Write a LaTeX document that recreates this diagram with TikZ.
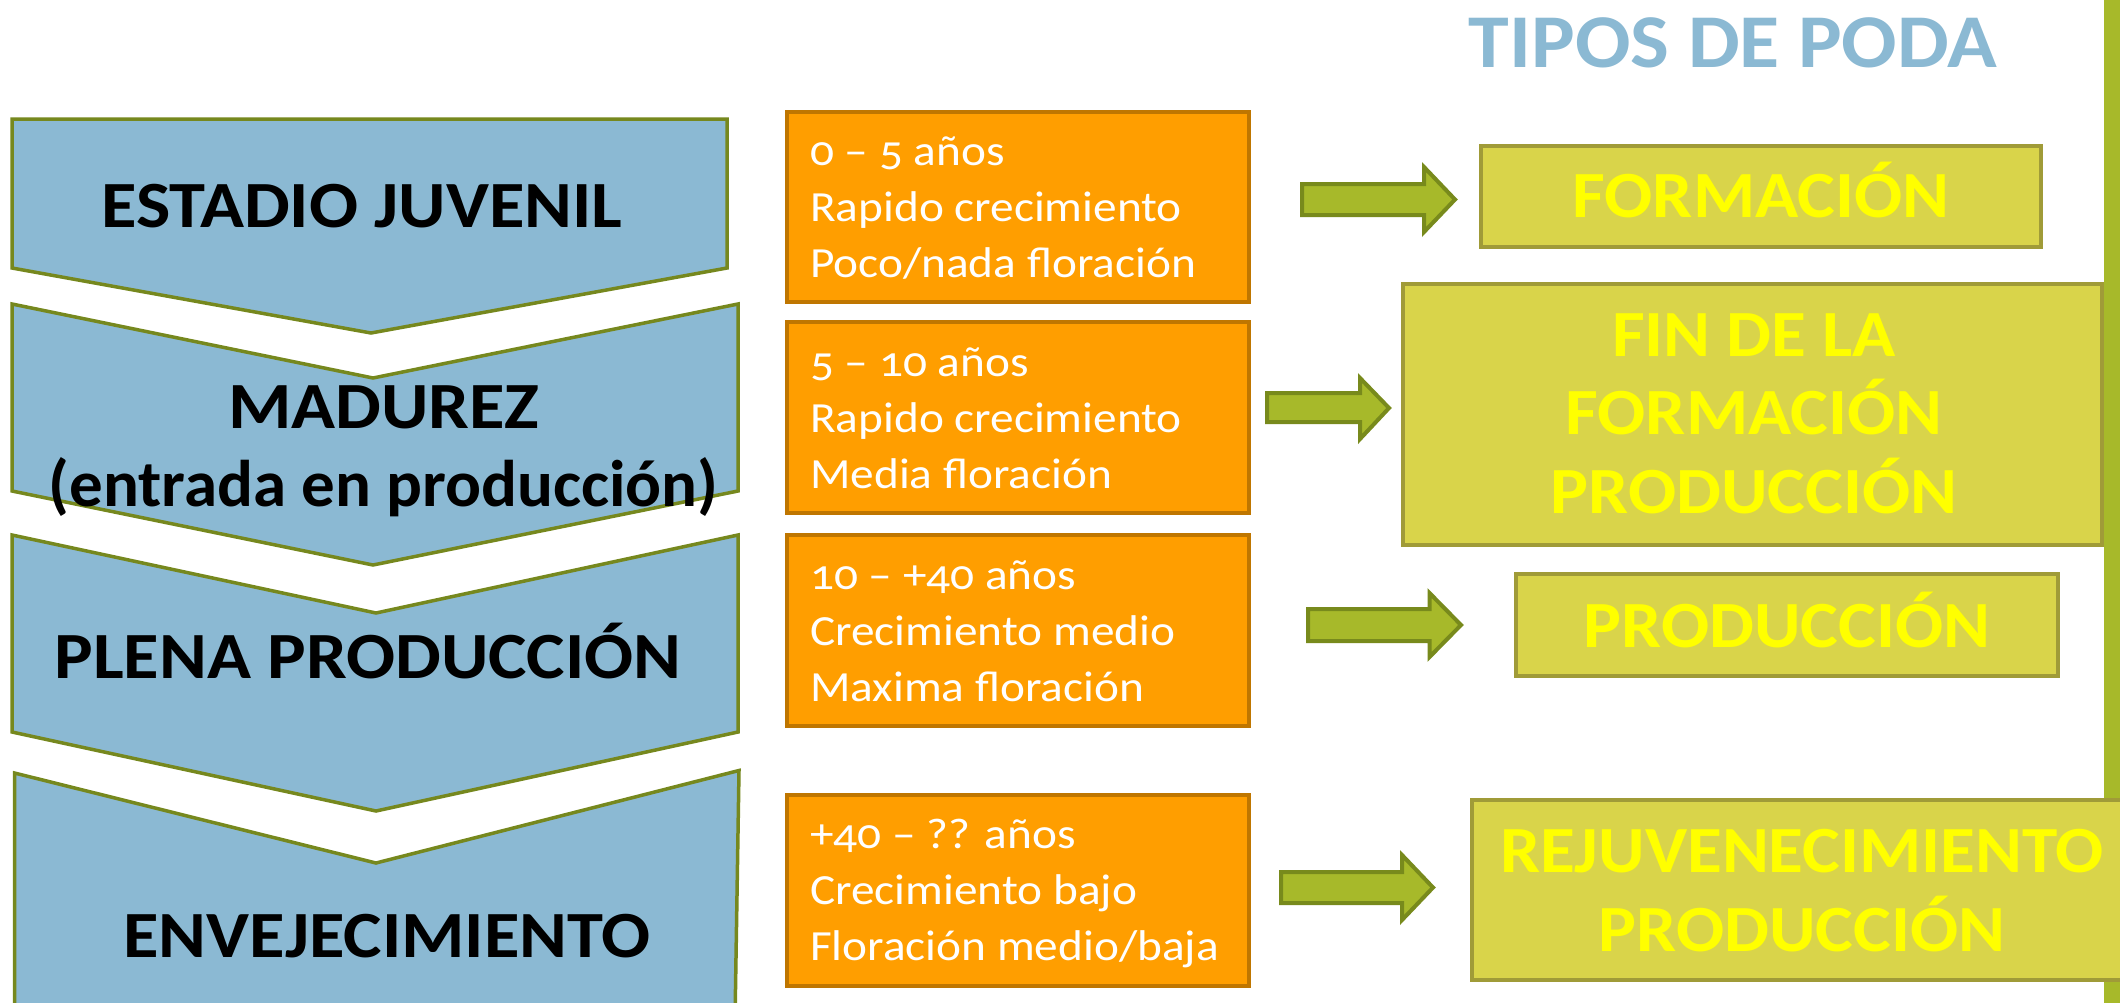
\documentclass[tikz,border=0pt]{standalone}
\usepackage{fontspec}
\setmainfont{Carlito}[FakeStretch=1.08]
\newfontfamily\capfont{Carlito}[FakeStretch=1.10]
\newfontfamily\lowfont{Carlito}[FakeStretch=1.015]
\newfontfamily\agefont{Carlito}[FakeStretch=1.10, Numbers=OldStyle]
\definecolor{chevblue}{RGB}{139,185,211}
\definecolor{chevline}{RGB}{118,136,30}
\definecolor{orangefill}{RGB}{255,158,0}
\definecolor{orangeline}{RGB}{191,118,0}
\definecolor{arrowfill}{RGB}{167,185,42}
\definecolor{arrowline}{RGB}{120,138,28}
\definecolor{boxfill}{RGB}{217,212,74}
\definecolor{boxline}{RGB}{160,155,56}
\definecolor{titleblue}{RGB}{139,185,211}
\definecolor{barcolor}{RGB}{167,185,42}
\definecolor{podayellow}{RGB}{255,255,0}
\begin{document}
\begin{tikzpicture}[x=1pt,y=-1pt,
  chev/.style={fill=chevblue, draw=chevline, line width=3.5pt, line join=miter},
  chevtext/.style={font=\capfont\fontsize{66}{78}\selectfont\bfseries, text=black, anchor=base, inner sep=0pt},
  chevlow/.style={font=\lowfont\fontsize{66}{78}\selectfont\bfseries, text=black, anchor=base, inner sep=0pt},
  agebox/.style={fill=orangefill, draw=orangeline, line width=4pt, inner sep=0pt, minimum width=462pt},
  agetext/.style={font=\agefont\fontsize{43}{56}\selectfont, text=white, anchor=base west, inner sep=0pt},
  podabox/.style={fill=boxfill, draw=boxline, line width=4pt, inner sep=0pt},
  podatext/.style={font=\fontsize{66}{78}\selectfont\bfseries, text=podayellow, anchor=base, inner sep=0pt},
  blockarrow/.style={fill=arrowfill, draw=arrowline, line width=4pt, line join=miter},
  titletext/.style={font=\fontsize{76}{90}\selectfont\bfseries, text=titleblue, anchor=base, inner sep=0pt}
]
\clip (0,0) rectangle (2120,1002);
\fill[white] (0,0) rectangle (2120,1002);

% right-hand bar
\fill[barcolor] (2104,-5) rectangle (2125,1010);

% title
\node[titletext] (title) at (1733,67) {TIPOS DE PODA};

% chevrons
\draw[chev] (12,119) -- (727,119) -- (727,268) -- (371,333) -- (12,268) -- cycle;
\draw[chev] (12,304) -- (373,378) -- (738,304) -- (738,491) -- (373,565) -- (12,491) -- cycle;
\draw[chev] (12,535) -- (376,613) -- (738,535) -- (738,732) -- (376,811) -- (12,732) -- cycle;
\draw[chev] (14.5,1020) -- (14.5,773) -- (376,863) -- (739,770.5) -- (735,1020);

\node[chevtext] (c1) at (362,227.5) {ESTADIO JUVENIL};
\node[chevtext] (c2a) at (384,428) {MADUREZ};
\node[chevlow] (c2b) at (383.5,506) {(entrada en producción)};
\node[chevtext] (c3) at (368,678) {PLENA PRODUCCIÓN};
\node[chevtext] (c4) at (387,957) {ENVEJECIMIENTO};

% age boxes
\node[agebox, minimum height=190pt] (age1) at (1018,206.6) {};
\node[agebox, minimum height=191pt] (age2) at (1018,417.5) {};
\node[agebox, minimum height=191pt] (age3) at (1018,630.5) {};
\node[agebox, minimum height=191pt] (age4) at (1018,890.5) {};

\node[agetext] (a1a) at (810,165) {0 – 5 años};
\node[agetext] (a1b) at (810,221) {Rapido crecimiento};
\node[agetext] (a1c) at (810,277) {Poco/nada floración};
\node[agetext] (a2a) at (810,376) {5 – 10 años};
\node[agetext] (a2b) at (810,432) {Rapido crecimiento};
\node[agetext] (a2c) at (810,488) {Media floración};
\node[agetext] (a3a) at (810,589) {10 – +40 años};
\node[agetext] (a3b) at (810,645) {Crecimiento medio};
\node[agetext] (a3c) at (810,701.5) {Maxima floración};
\node[agetext] (a4a) at (810,848) {+40 – ?? años};
\node[agetext] (a4b) at (810,904) {Crecimiento bajo};
\node[agetext] (a4c) at (810,960.5) {Floración medio/baja};

% block arrows
\draw[blockarrow] (1302,184) -- (1424,184) -- (1424,167) -- (1455,199.5) -- (1424,232) -- (1424,215) -- (1302,215) -- cycle;
\draw[blockarrow] (1267,393) -- (1360,393) -- (1360,378) -- (1389,408) -- (1360,439) -- (1360,422) -- (1267,422) -- cycle;
\draw[blockarrow] (1308,609) -- (1429.5,609) -- (1429.5,593) -- (1461,625) -- (1429.5,657) -- (1429.5,641) -- (1308,641) -- cycle;
\draw[blockarrow] (1281,872) -- (1402,872) -- (1402,855) -- (1433,887.5) -- (1402,920) -- (1402,903) -- (1281,903) -- cycle;

% poda boxes
\node[podabox, minimum width=560pt, minimum height=101pt] (p1) at (1761,196) {};
\node[podabox, minimum width=699pt, minimum height=261pt] (p2) at (1752.5,414.5) {};
\node[podabox, minimum width=542pt, minimum height=102pt] (p3) at (1787,625) {};
\node[podabox, minimum width=660pt, minimum height=180pt] (p4) at (1802,890) {};

\node[podatext] (t1) at (1761,217) {FORMACIÓN};
\node[podatext] (t2a) at (1754,356) {FIN DE LA};
\node[podatext] (t2b) at (1754,434.5) {FORMACIÓN};
\node[podatext] (t2c) at (1754,513) {PRODUCCIÓN};
\node[podatext] (t3) at (1787,647) {PRODUCCIÓN};
\node[podatext] (t4a) at (1802,872) {REJUVENECIMIENTO};
\node[podatext] (t4b) at (1802,951) {PRODUCCIÓN};
\end{tikzpicture}
\end{document}
